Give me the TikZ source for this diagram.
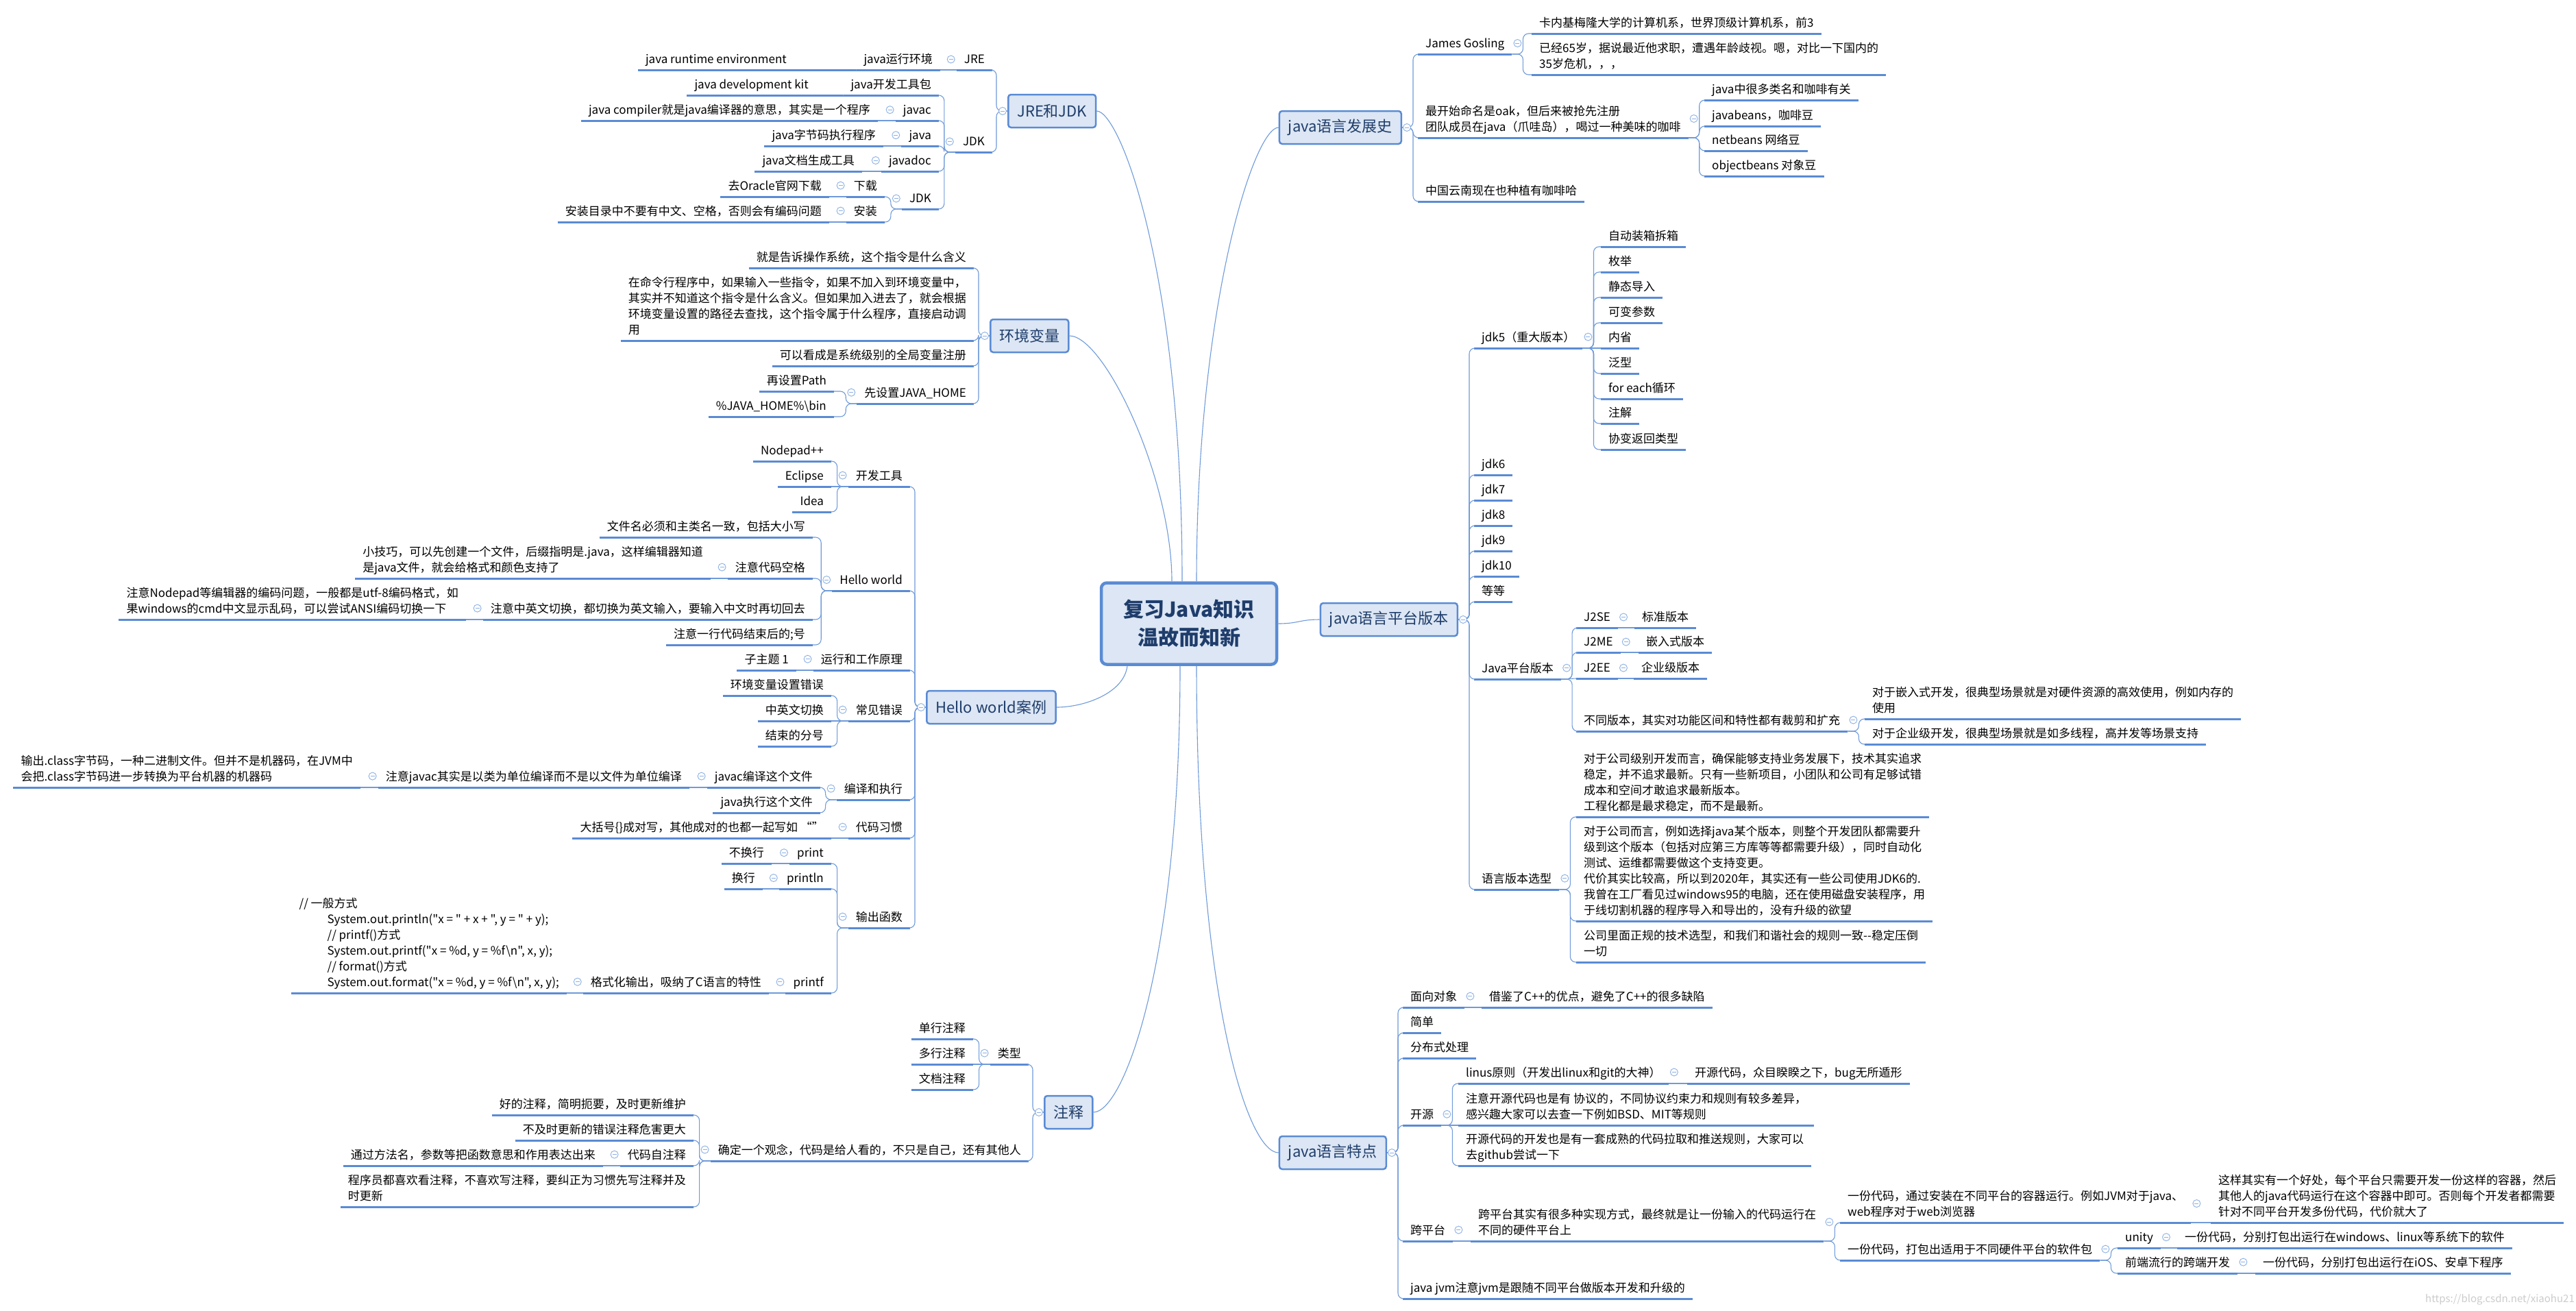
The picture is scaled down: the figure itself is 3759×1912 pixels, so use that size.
\documentclass[tikz,border=0pt]{standalone}
\usepackage{fontspec}
\setmainfont{Noto Sans CJK SC}
\newfontfamily\codefont{Noto Sans CJK SC}
\usetikzlibrary{calc}
\definecolor{ulc}{HTML}{5A8BD4}
\definecolor{cnc}{HTML}{6F9BDA}
\definecolor{mkc}{HTML}{8CB0E3}
\definecolor{boxc}{HTML}{5A8BD4}
\definecolor{boxf}{HTML}{DCE6F4}
\definecolor{boxt}{HTML}{1F3D6B}
\newcommand\fsA{\fontsize{17pt}{23pt}\selectfont}
\newcommand\fsB{\fontsize{22pt}{26pt}\selectfont}
\newcommand\fsC{\fontsize{30pt}{41pt}\selectfont\bfseries}
\newcommand\mkL[1]{\node[mk] (m#1) at ([xshift=-8pt]#1.west) {};}
\newcommand\mkR[1]{\node[mk] (m#1) at ([xshift=8pt]#1.east) {};}
\begin{document}
\begin{tikzpicture}[x=1pt,y=-1pt,
  ul/.style={draw=ulc, line width=3pt},
  ln/.style={anchor=south east, inner xsep=11pt, inner ysep=9pt, text depth=0pt, align=left, font=\fsA,
     append after command={(\tikzlastnode.south west) edge[ul] (\tikzlastnode.south east)}},
  rn/.style={ln, anchor=south west},
  cn/.style={draw=cnc, line width=1.1pt, rounded corners=8pt},
  lk/.style={cn, to path={-- ++(-16pt,0pt) |- (\tikztotarget)}},
  rk/.style={cn, to path={-- ++(16pt,0pt) |- (\tikztotarget)}},
  sk/.style={cn},
  mk/.style={circle, draw=mkc, fill=white, line width=0.9pt, minimum size=11pt, inner sep=0pt,
     path picture={\draw[mkc, line width=0.9pt] ([xshift=-3pt]path picture bounding box.center) -- ([xshift=3pt]path picture bounding box.center);}},
  topic/.style={draw=boxc, fill=boxf, line width=2.5pt, rounded corners=4pt, font=\fsB, text=boxt, minimum height=48pt, inner xsep=13pt},
  mc/.style={draw=cnc, line width=1.1pt},
]
\fill[white] (0,0) rectangle (3759,1912);
\useasboundingbox (0,0) rectangle (3759,1912);

% root
\node[draw=boxc, fill=boxf, line width=4.5pt, rounded corners=8pt, minimum width=256pt, minimum height=119pt, align=center, font=\fsC, text=boxt] (root) at (1735,910) {复习Java知识\\温故而知新};

% level-1 topics
\node[topic, anchor=west] (t1) at (1470,162) {JRE和JDK};
\node[topic, anchor=west] (t2) at (1444,490) {环境变量};
\node[topic, anchor=west] (t3) at (1351,1032) {Hello world案例};
\node[topic, anchor=west] (t4) at (1523,1623) {注释};
\node[topic, anchor=east] (t5) at (2046,186) {java语言发展史};
\node[topic, anchor=east] (t6) at (2128,904) {java语言平台版本};
\node[topic, anchor=east] (t7) at (2024,1682) {java语言特点};

\draw[mc] ([xshift=-10pt]root.north) .. controls +(0,-451) and +(34,0) .. (t1.east);
\draw[mc] ([xshift=-25pt]root.north) .. controls +(0,-151) and +(51,0) .. (t2.east);
\draw[mc] ([xshift=11pt]root.north) .. controls +(0,-401) and +(-36,0) .. (t5.west);
\draw[mc] (root.east) .. controls +(30,0) and +(-30,0) .. (t6.west);
\draw[mc] ([xshift=-90pt]root.south) .. controls +(-5,40) and +(40,0) .. (t3.east);
\draw[mc] ([xshift=-13pt]root.south) .. controls +(0,430) and +(45,0) .. (t4.east);
\draw[mc] ([xshift=11pt]root.south) .. controls +(0,480) and +(-46,0) .. (t7.west);

% ===== JRE和JDK =====
\node[ln] (jre) at (1448,102) {JRE};
\node[ln] (jreA) at (1372,102) {java运行环境};
\node[ln] (jreB) at (1250,102) {java runtime environment\hspace*{91pt}};
\node[ln] (jdk) at (1448,222) {JDK};
\node[ln] (jdkA) at (1370,139) {java开发工具包};
\node[ln] (jdkB) at (1230,139) {java development kit\hspace*{39pt}};
\node[ln] (javac) at (1370,176) {javac};
\node[ln] (javacA) at (1281,176) {java compiler就是java编译器的意思，其实是一个程序};
\node[ln] (javaN) at (1370,213) {java};
\node[ln] (javaA) at (1289,213) {java字节码执行程序};
\node[ln] (javadoc) at (1370,250) {javadoc};
\node[ln] (javadocA) at (1258,250) {java文档生成工具};
\node[ln] (jdkT) at (1370,305) {JDK};
\node[ln] (dl) at (1291,287) {下载};
\node[ln] (dlA) at (1210,287) {去Oracle官网下载};
\node[ln] (inst) at (1291,324) {安装};
\node[ln] (instA) at (1210,324) {安装目录中不要有中文、空格，否则会有编码问题};

\path (t1.west) edge[lk] (jre.south east) edge[lk] (jdk.south east);
\path (jre.south west) edge[sk] (jreA.south east);
\path (jreA.south west) edge[sk] (jreB.south east);
\path (jdk.south west) edge[lk] (jdkA.south east) edge[lk] (javac.south east) edge[lk] (javaN.south east) edge[lk] (javadoc.south east) edge[lk] (jdkT.south east);
\path (jdkA.south west) edge[sk] (jdkB.south east);
\path (javac.south west) edge[sk] (javacA.south east);
\path (javaN.south west) edge[sk] (javaA.south east);
\path (javadoc.south west) edge[sk] (javadocA.south east);
\path (jdkT.south west) edge[lk] (dl.south east) edge[lk] (inst.south east);
\path (dl.south west) edge[sk] (dlA.south east);
\path (inst.south west) edge[sk] (instA.south east);

% ===== 环境变量 =====
\node[ln] (e1) at (1421,391) {就是告诉操作系统，这个指令是什么含义};
\node[ln] (e2) at (1421,497) {在命令行程序中，如果输入一些指令，如果不加入到环境变量中，\\其实并不知道这个指令是什么含义。但如果加入进去了，就会根据\\环境变量设置的路径去查找，这个指令属于什么程序，直接启动调\\用};
\node[ln] (e3) at (1421,534) {可以看成是系统级别的全局变量注册};
\node[ln] (e4) at (1421,589) {先设置JAVA\_HOME};
\node[ln] (e4a) at (1217,571) {再设置Path};
\node[ln] (e4b) at (1217,608) {\%JAVA\_HOME\%\textbackslash bin};
\path (t2.west) edge[lk] (e1.south east) edge[lk] (e2.south east) edge[lk] (e3.south east) edge[lk] (e4.south east);
\path (e4.south west) edge[lk] (e4a.south east) edge[lk] (e4b.south east);

% ===== Hello world案例 =====
\node[ln] (h1) at (1328,710) {开发工具};
\node[ln] (h1a) at (1213,673) {Nodepad++};
\node[ln] (h1b) at (1213,710) {Eclipse};
\node[ln] (h1c) at (1213,747) {Idea};
\node[ln] (h2) at (1328,862) {Hello world};
\node[ln] (h2a) at (1186,784) {文件名必须和主类名一致，包括大小写};
\node[ln] (h2b) at (1186,844) {注意代码空格};
\node[ln] (h2b1) at (1037,844) {小技巧，可以先创建一个文件，后缀指明是.java，这样编辑器知道\\是java文件，就会给格式和颜色支持了};
\node[ln] (h2c) at (1186,904) {注意中英文切换，都切换为英文输入，要输入中文时再切回去};
\node[ln] (h2c1) at (680,904) {注意Nodepad等编辑器的编码问题，一般都是utf-8编码格式，如\\果windows的cmd中文显示乱码，可以尝试ANSI编码切换一下};
\node[ln] (h2d) at (1186,941) {注意一行代码结束后的;号};
\node[ln] (h3) at (1328,978) {运行和工作原理};
\node[ln] (h3a) at (1162,978) {子主题 1};
\node[ln] (h4) at (1328,1052) {常见错误};
\node[ln] (h4a) at (1213,1015) {环境变量设置错误};
\node[ln] (h4b) at (1213,1052) {中英文切换};
\node[ln] (h4c) at (1213,1089) {结束的分号};
\node[ln] (h5) at (1328,1167) {编译和执行};
\node[ln] (h5a) at (1197,1149) {javac编译这个文件};
\node[ln] (h5a1) at (1006,1149) {注意javac其实是以类为单位编译而不是以文件为单位编译};
\node[ln] (h5a11) at (526,1149) {输出.class字节码，一种二进制文件。但并不是机器码，在JVM中\\会把.class字节码进一步转换为平台机器的机器码};
\node[ln] (h5b) at (1197,1186) {java执行这个文件};
\node[ln] (h6) at (1328,1223) {代码习惯};
\node[ln] (h6a) at (1213,1223) {大括号\{\}成对写，其他成对的也都一起写如 “”};
\node[ln] (h7) at (1328,1354) {输出函数};
\node[ln] (h7a) at (1213,1260) {print};
\node[ln] (h7a1) at (1126,1260) {不换行};
\node[ln] (h7b) at (1213,1297) {println};
\node[ln] (h7b1) at (1113,1297) {换行};
\node[ln] (h7c) at (1213,1449) {printf};
\node[ln] (h7c1) at (1122,1449) {格式化输出，吸纳了C语言的特性};
\node[ln, font=\fsA\codefont] (h7c11) at (827,1449) {// 一般方式\\
\hspace*{41pt}System.out.println("x = " + x + ", y = " + y);\\
\hspace*{41pt}// printf()方式\\
\hspace*{41pt}System.out.printf("x = \%d, y = \%f\textbackslash n", x, y);\\
\hspace*{41pt}// format()方式\\
\hspace*{41pt}System.out.format("x = \%d, y = \%f\textbackslash n", x, y);};

\path (t3.west) edge[lk] (h1.south east) edge[lk] (h2.south east) edge[lk] (h3.south east) edge[lk] (h4.south east) edge[lk] (h5.south east) edge[lk] (h6.south east) edge[lk] (h7.south east);
\path (h1.south west) edge[lk] (h1a.south east) edge[sk] (h1b.south east) edge[lk] (h1c.south east);
\path (h2.south west) edge[lk] (h2a.south east) edge[lk] (h2b.south east) edge[lk] (h2c.south east) edge[lk] (h2d.south east);
\path (h2b.south west) edge[sk] (h2b1.south east);
\path (h2c.south west) edge[sk] (h2c1.south east);
\path (h3.south west) edge[sk] (h3a.south east);
\path (h4.south west) edge[lk] (h4a.south east) edge[sk] (h4b.south east) edge[lk] (h4c.south east);
\path (h5.south west) edge[lk] (h5a.south east) edge[lk] (h5b.south east);
\path (h5a.south west) edge[sk] (h5a1.south east);
\path (h5a1.south west) edge[sk] (h5a11.south east);
\path (h6.south west) edge[sk] (h6a.south east);
\path (h7.south west) edge[lk] (h7a.south east) edge[lk] (h7b.south east) edge[lk] (h7c.south east);
\path (h7a.south west) edge[sk] (h7a1.south east);
\path (h7b.south west) edge[sk] (h7b1.south east);
\path (h7c.south west) edge[sk] (h7c1.south east);
\path (h7c1.south west) edge[sk] (h7c11.south east);

% ===== 注释 =====
\node[ln] (c1) at (1501,1553) {类型};
\node[ln] (c1a) at (1420,1516) {单行注释};
\node[ln] (c1b) at (1420,1553) {多行注释};
\node[ln] (c1c) at (1420,1590) {文档注释};
\node[ln] (c2) at (1501,1694) {确定一个观念，代码是给人看的，不只是自己，还有其他人};
\node[ln] (c2a) at (1012,1627) {好的注释，简明扼要，及时更新维护};
\node[ln] (c2b) at (1012,1664) {不及时更新的错误注释危害更大};
\node[ln] (c2c) at (1012,1701) {代码自注释};
\node[ln] (c2c1) at (880,1701) {通过方法名，参数等把函数意思和作用表达出来};
\node[ln] (c2d) at (1012,1761) {程序员都喜欢看注释，不喜欢写注释，要纠正为习惯先写注释并及\\时更新};
\path (t4.west) edge[lk] (c1.south east) edge[lk] (c2.south east);
\path (c1.south west) edge[lk] (c1a.south east) edge[sk] (c1b.south east) edge[lk] (c1c.south east);
\path (c2.south west) edge[lk] (c2a.south east) edge[lk] (c2b.south east) edge[lk] (c2c.south east) edge[lk] (c2d.south east);
\path (c2c.south west) edge[sk] (c2c1.south east);

% ===== java语言发展史 =====
\node[rn] (d1) at (2069,79) {James Gosling};
\node[rn] (d1a) at (2235,49) {卡内基梅隆大学的计算机系，世界顶级计算机系，前3};
\node[rn] (d1b) at (2235,109) {已经65岁，据说最近他求职，遭遇年龄歧视。嗯，对比一下国内的\\35岁危机，，，};
\node[rn] (d2) at (2069,201) {最开始命名是oak，但后来被抢先注册\\团队成员在java（爪哇岛），喝过一种美味的咖啡};
\node[rn] (d2a) at (2487,146) {java中很多类名和咖啡有关};
\node[rn] (d2b) at (2487,184) {javabeans，咖啡豆};
\node[rn] (d2c) at (2487,220) {netbeans 网络豆};
\node[rn] (d2d) at (2487,257) {objectbeans 对象豆};
\node[rn] (d3) at (2069,294) {中国云南现在也种植有咖啡哈};
\path (t5.east) edge[rk] (d1.south west) edge[rk] (d2.south west) edge[rk] (d3.south west);
\path (d1.south east) edge[rk] (d1a.south west) edge[rk] (d1b.south west);
\path (d2.south east) edge[rk] (d2a.south west) edge[rk] (d2b.south west) edge[rk] (d2c.south west) edge[rk] (d2d.south west);

% ===== java语言平台版本 =====
\node[rn] (p1) at (2151,508) {jdk5（重大版本）};
\node[rn] (p1a) at (2336,360) {自动装箱拆箱};
\node[rn] (p1b) at (2336,397) {枚举};
\node[rn] (p1c) at (2336,434) {静态导入};
\node[rn] (p1d) at (2336,471) {可变参数};
\node[rn] (p1e) at (2336,508) {内省};
\node[rn] (p1f) at (2336,545) {泛型};
\node[rn] (p1g) at (2336,582) {for each循环};
\node[rn] (p1h) at (2336,618) {注解};
\node[rn] (p1i) at (2336,656) {协变返回类型};
\node[rn] (p2) at (2151,693) {jdk6};
\node[rn] (p3) at (2151,730) {jdk7};
\node[rn] (p4) at (2151,767) {jdk8};
\node[rn] (p5) at (2151,804) {jdk9};
\node[rn] (p6) at (2151,841) {jdk10};
\node[rn] (p7) at (2151,878) {等等};
\node[rn] (p8) at (2151,991) {Java平台版本};
\node[rn] (p8a) at (2300,916) {J2SE};
\node[rn] (p8a1) at (2385,916) {标准版本};
\node[rn] (p8b) at (2300,952) {J2ME};
\node[rn] (p8b1) at (2391,952) {嵌入式版本};
\node[rn] (p8c) at (2300,990) {J2EE};
\node[rn] (p8c1) at (2384,990) {企业级版本};
\node[rn] (p8d) at (2300,1067) {不同版本，其实对功能区间和特性都有裁剪和扩充};
\node[rn] (p8d1) at (2721,1049) {对于嵌入式开发，很典型场景就是对硬件资源的高效使用，例如内存的\\使用};
\node[rn] (p8d2) at (2721,1086) {对于企业级开发，很典型场景就是如多线程，高并发等场景支持};
\node[rn] (p9) at (2151,1298) {语言版本选型};
\node[rn] (p9a) at (2300,1192) {对于公司级别开发而言，确保能够支持业务发展下，技术其实追求\\稳定，并不追求最新。只有一些新项目，小团队和公司有足够试错\\成本和空间才敢追求最新版本。\\工程化都是最求稳定，而不是最新。};
\node[rn] (p9b) at (2300,1344) {对于公司而言，例如选择java某个版本，则整个开发团队都需要升\\级到这个版本（包括对应第三方库等等都需要升级），同时自动化\\测试、运维都需要做这个支持变更。\\代价其实比较高，所以到2020年，其实还有一些公司使用JDK6的.\\我曾在工厂看见过windows95的电脑，还在使用磁盘安装程序，用\\于线切割机器的程序导入和导出的，没有升级的欲望};
\node[rn] (p9c) at (2300,1404) {公司里面正规的技术选型，和我们和谐社会的规则一致-{}-稳定压倒\\一切};
\path (t6.east) edge[rk] (p1.south west) edge[rk] (p2.south west) edge[rk] (p3.south west) edge[rk] (p4.south west) edge[rk] (p5.south west) edge[rk] (p6.south west) edge[rk] (p7.south west) edge[rk] (p8.south west) edge[rk] (p9.south west);
\path (p1.south east) edge[rk] (p1a.south west) edge[rk] (p1b.south west) edge[rk] (p1c.south west) edge[rk] (p1d.south west) edge[sk] (p1e.south west) edge[rk] (p1f.south west) edge[rk] (p1g.south west) edge[rk] (p1h.south west) edge[rk] (p1i.south west);
\path (p8.south east) edge[rk] (p8a.south west) edge[rk] (p8b.south west) edge[sk] (p8c.south west) edge[rk] (p8d.south west);
\path (p8a.south east) edge[sk] (p8a1.south west);
\path (p8b.south east) edge[sk] (p8b1.south west);
\path (p8c.south east) edge[sk] (p8c1.south west);
\path (p8d.south east) edge[rk] (p8d1.south west) edge[rk] (p8d2.south west);
\path (p9.south east) edge[rk] (p9a.south west) edge[rk] (p9b.south west) edge[rk] (p9c.south west);

% ===== java语言特点 =====
\node[rn] (f1) at (2047,1470) {面向对象};
\node[rn] (f1a) at (2162,1470) {借鉴了C++的优点，避免了C++的很多缺陷};
\node[rn] (f2) at (2047,1507) {简单};
\node[rn] (f3) at (2047,1544) {分布式处理};
\node[rn] (f4) at (2047,1642) {开源};
\node[rn] (f4a) at (2128,1581) {linus原则（开发出linux和git的大神）};
\node[rn] (f4a1) at (2462,1581) {开源代码，众目睽睽之下，bug无所遁形};
\node[rn] (f4b) at (2128,1642) {注意开源代码也是有 协议的，不同协议约束力和规则有较多差异，\\感兴趣大家可以去查一下例如BSD、MIT等规则};
\node[rn] (f4c) at (2128,1701) {开源代码的开发也是有一套成熟的代码拉取和推送规则，大家可以\\去github尝试一下};
\node[rn] (f5) at (2047,1811) {跨平台};
\node[rn] (f5a) at (2146,1811) {跨平台其实有很多种实现方式，最终就是让一份输入的代码运行在\\不同的硬件平台上};
\node[rn] (f5a1) at (2685,1784) {一份代码，通过安装在不同平台的容器运行。例如JVM对于java、\\web程序对于web浏览器};
\node[rn] (f5a11) at (3226,1784) {这样其实有一个好处，每个平台只需要开发一份这样的容器，然后\\其他人的java代码运行在这个容器中即可。否则每个开发者都需要\\针对不同平台开发多份代码，代价就大了};
\node[rn] (f5a2) at (2685,1839) {一份代码，打包出适用于不同硬件平台的软件包};
\node[rn] (f5a21) at (3090,1821) {unity};
\node[rn] (f5a211) at (3177,1821) {一份代码，分别打包出运行在windows、linux等系统下的软件};
\node[rn] (f5a22) at (3090,1858) {前端流行的跨端开发};
\node[rn] (f5a221) at (3291,1858) {一份代码，分别打包出运行在iOS、安卓下程序};
\node[rn] (f6) at (2047,1895) {java jvm注意jvm是跟随不同平台做版本开发和升级的};
\path (t7.east) edge[rk] (f1.south west) edge[rk] (f2.south west) edge[rk] (f3.south west) edge[rk] (f4.south west) edge[rk] (f5.south west) edge[rk] (f6.south west);
\path (f1.south east) edge[sk] (f1a.south west);
\path (f4.south east) edge[rk] (f4a.south west) edge[sk] (f4b.south west) edge[rk] (f4c.south west);
\path (f4a.south east) edge[sk] (f4a1.south west);
\path (f5.south east) edge[sk] (f5a.south west);
\path (f5a.south east) edge[rk] (f5a1.south west) edge[rk] (f5a2.south west);
\path (f5a1.south east) edge[sk] (f5a11.south west);
\path (f5a2.south east) edge[rk] (f5a21.south west) edge[rk] (f5a22.south west);
\path (f5a21.south east) edge[sk] (f5a211.south west);
\path (f5a22.south east) edge[sk] (f5a221.south west);

% ===== markers =====
\node[mk] (mt1) at ([xshift=-7pt]t1.west) {};
\node[mk] (mt2) at ([xshift=-7pt]t2.west) {};
\node[mk] (mt3) at ([xshift=-7pt]t3.west) {};
\node[mk] (mt4) at ([xshift=-7pt]t4.west) {};
\node[mk] (mt5) at ([xshift=7pt]t5.east) {};
\node[mk] (mt6) at ([xshift=7pt]t6.east) {};
\node[mk] (mt7) at ([xshift=7pt]t7.east) {};
\mkL{jre}\mkL{jdk}\mkL{javac}\mkL{javaN}\mkL{javadoc}\mkL{jdkT}\mkL{dl}\mkL{inst}
\mkL{e4}
\mkL{h1}\mkL{h2}\mkL{h2b}\mkL{h2c}\mkL{h3}\mkL{h4}\mkL{h5}\mkL{h5a}\mkL{h5a1}\mkL{h6}\mkL{h7}\mkL{h7a}\mkL{h7b}\mkL{h7c}\mkL{h7c1}
\mkL{c1}\mkL{c2}\mkL{c2c}
\mkR{d1}\mkR{d2}
\mkR{p1}\mkR{p8}\mkR{p8a}\mkR{p8b}\mkR{p8c}\mkR{p8d}\mkR{p9}
\mkR{f1}\mkR{f4}\mkR{f4a}\mkR{f5}\mkR{f5a}\mkR{f5a1}\mkR{f5a2}\mkR{f5a21}\mkR{f5a22}

% watermark
\node[anchor=base east, inner sep=0pt, font=\fontsize{15pt}{18pt}\selectfont, text=black!20] (wm) at (3757,1900) {https://blog.csdn.net/xiaohu21};
\end{tikzpicture}
\end{document}
